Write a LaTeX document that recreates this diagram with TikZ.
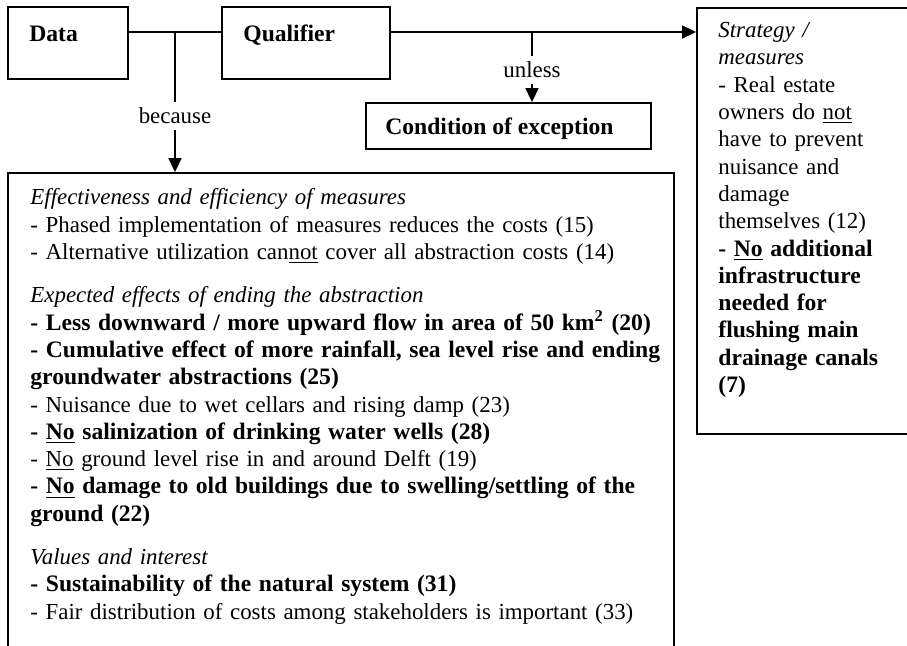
\documentclass[tikz,border=0pt]{standalone}
\usepackage{fontspec}
\setmainfont{Liberation Serif}
\usetikzlibrary{arrows.meta,fit}
% bold passages are set a touch larger than the body text
\newcommand{\boldpart}[1]{{\fontsize{11.8}{13.65}\selectfont\bfseries #1}}
\begin{document}
\begin{tikzpicture}[x=0.5pt,y=-0.5pt,
  box/.style={draw,line width=0.9pt,inner sep=0pt},
  txt/.style={inner sep=0pt,anchor=base west,font=\fontsize{11.45}{13.65}\selectfont},
  link/.style={line width=0.85pt},
  arrowlink/.style={link,-{Triangle[length=7pt,width=6.5pt]}},
  lab/.style={fill=white,inner sep=3pt,font=\fontsize{11.45}{13.65}\selectfont}]
\useasboundingbox (0,0) rectangle (907,646);

% Toulmin boxes
\node[box,fit={(8,7) (128,79)}] (data) {};
\node[box,fit={(222,7) (390,79)}] (qual) {};
\node[box,fit={(366,103) (651,149)}] (cond) {};
\node[box,fit={(697,8) (930,434)}] (strat) {};
\node[box,fit={(8,173) (674,690)}] (grounds) {};

% box titles
\node[txt] (datalabel) at (29,42) {\boldpart{Data}};
\node[txt] (quallabel) at (243,42) {\boldpart{Qualifier}};
\node[txt] (condlabel) at (385,135) {\boldpart{Condition of exception}};

% connectors
\coordinate (mainline) at (0,32);
\coordinate (bec) at (175,32);
\coordinate (unl) at (532,32);
\draw[link] (data.east |- mainline) -- (qual.west |- mainline);
\draw[arrowlink] (qual.east |- mainline) -- (strat.west |- mainline);
\draw[arrowlink] (bec) -- node[lab,pos=0.6] (because) {because} (bec |- grounds.north);
\draw[arrowlink] (unl) -- node[lab,pos=0.54] (unless) {unless} (unl |- cond.north);

% claim: strategy / measures
\node[txt,text width=95pt,align=left] (strattext) at (718,37.7) {%
\textit{Strategy /}\\
\textit{measures}\\
- Real estate\\
owners do \underline{not}\\
have to prevent\\
nuisance and\\
damage\\
themselves (12)\\
\boldpart{- \underline{No} additional}\\
\boldpart{infrastructure}\\
\boldpart{needed for}\\
\boldpart{flushing main}\\
\boldpart{drainage canals}\\
\boldpart{(7)}};

% grounds / backing
\node[txt,text width=325pt,align=left] (groundstext) at (30,205) {%
\textit{Effectiveness and efficiency of measures}\\
- Phased implementation of measures reduces the costs (15)\\
- Alternative utilization can\underline{not} cover all abstraction costs (14)\\[8pt]
\textit{Expected effects of ending the abstraction}\\
\boldpart{- Less downward / more upward flow in area of 50 km\textsuperscript{2} (20)}\\
\boldpart{- Cumulative effect of more rainfall, sea level rise and ending}\\
\boldpart{groundwater abstractions (25)}\\
- Nuisance due to wet cellars and rising damp (23)\\
\boldpart{- \underline{No} salinization of drinking water wells (28)}\\
- \underline{No} ground level rise in and around Delft (19)\\
\boldpart{- \underline{No} damage to old buildings due to swelling/settling of the}\\
\boldpart{ground (22)}\\[8pt]
\textit{Values and interest}\\
\boldpart{- Sustainability of the natural system (31)}\\
- Fair distribution of costs among stakeholders is important (33)};
\end{tikzpicture}
\end{document}
